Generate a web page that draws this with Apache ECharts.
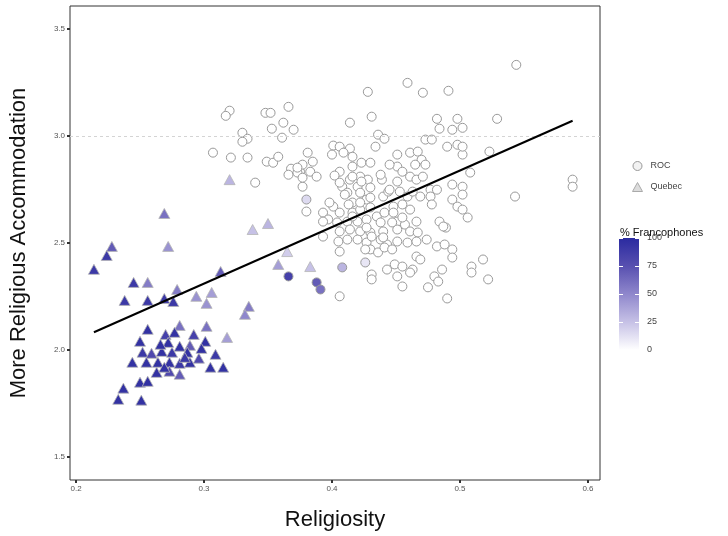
<!DOCTYPE html>
<html><head><meta charset="utf-8">
<script src="https://cdn.jsdelivr.net/npm/echarts@6/dist/echarts.min.js"></script>
<style>html,body{margin:0;padding:0;background:#fff}#c{width:728px;height:536px}</style>
</head><body><div id="c"></div>
<script>
// ---- DATA ----
const xTicks = [0.2, 0.3, 0.4, 0.5, 0.6];
const yTicks = [1.5, 2.0, 2.5, 3.0, 3.5];
const colorbarTicks = [0, 25, 50, 75, 100];
const refLineY = 3.0;

const quebecX = [
 0.269,0.228,0.224,0.272,0.214,0.245,0.256,0.313,0.279,0.238,
 0.256,0.269,0.276,0.294,0.302,0.306,0.256,0.281,0.302,0.318,
 0.250,0.270,0.277,0.292,0.301,0.272,0.281,0.289,0.252,0.259,
 0.267,0.275,0.287,0.298,0.244,0.255,0.264,0.273,0.281,0.289,
 0.296,0.305,0.315,0.263,0.273,0.281,0.250,0.256,0.237,0.233,
 0.251,0.320,0.338,0.350,0.365,0.358,0.383,0.335,0.332,0.266,
 0.285,0.309,0.269];
const quebecY = [
 2.638,2.484,2.442,2.484,2.377,2.316,2.316,2.367,2.283,2.232,
 2.232,2.241,2.227,2.251,2.218,2.269,2.097,2.115,2.111,2.059,
 2.041,2.073,2.083,2.073,2.041,2.036,2.018,2.022,1.990,1.985,
 1.994,1.990,1.990,2.008,1.943,1.943,1.943,1.943,1.938,1.943,
 1.962,1.920,1.920,1.896,1.901,1.887,1.850,1.854,1.822,1.770,
 1.766,2.796,2.563,2.591,2.460,2.400,2.390,2.204,2.167,2.027,
 1.966,1.980,1.920];
const quebecFr = [
 60,70,90,45,90,90,55,70,55,90,
 90,90,90,45,45,40,95,60,60,40,
 95,85,95,85,95,95,95,70,90,80,
 95,90,95,95,95,95,95,95,90,95,
 80,95,95,95,80,70,95,95,95,95,
 95,30,25,30,20,40,25,55,50,95,
 90,90,95];

const rocX = [
 0.320,0.317,0.348,0.352,0.366,0.353,0.362,0.370,0.330,0.334,
 0.330,0.361,0.307,0.321,0.334,0.349,0.354,0.358,0.368,0.366,
 0.375,0.340,0.544,0.459,0.471,0.491,0.428,0.414,0.431,0.482,
 0.498,0.529,0.484,0.494,0.502,0.436,0.441,0.434,0.473,0.478,
 0.490,0.498,0.502,0.523,0.381,0.385,0.377,0.373,0.383,0.388,
 0.377,0.401,0.400,0.406,0.414,0.416,0.423,0.430,0.416,0.406,
 0.402,0.408,0.414,0.422,0.420,0.428,0.430,0.439,0.451,0.451,
 0.455,0.461,0.467,0.470,0.465,0.473,0.451,0.461,0.466,0.471,
 0.477,0.482,0.494,0.502,0.502,0.508,0.412,0.422,0.416,0.427,
 0.440,0.444,0.453,0.459,0.463,0.469,0.477,0.478,0.494,0.498,
 0.502,0.506,0.543,0.588,0.588,0.380,0.393,0.401,0.397,0.406,
 0.416,0.422,0.430,0.435,0.441,0.448,0.455,0.461,0.393,0.404,
 0.412,0.420,0.427,0.438,0.451,0.457,0.466,0.484,0.489,0.393,
 0.406,0.414,0.422,0.430,0.440,0.451,0.461,0.467,0.405,0.412,
 0.420,0.427,0.438,0.443,0.451,0.459,0.466,0.474,0.482,0.488,
 0.494,0.406,0.430,0.436,0.441,0.466,0.494,0.426,0.443,0.449,
 0.455,0.463,0.451,0.431,0.431,0.455,0.475,0.480,0.486,0.483,
 0.509,0.509,0.518,0.522,0.490,0.406,0.373,0.377,0.409,0.445,
 0.406,0.416,0.423,0.438,0.445,0.410,0.398,0.413,0.422,0.430,
 0.416,0.427,0.447,0.431,0.440,0.426,0.447,0.448,0.455,0.487,
 0.461,0.469,0.502,0.380,0.366,0.388,0.391,0.408];
const rocY = [
 3.118,3.094,3.108,3.108,3.136,3.034,3.062,3.029,3.015,2.987,
 2.973,2.992,2.922,2.899,2.899,2.880,2.875,2.903,2.847,2.819,
 2.833,2.782,3.332,3.248,3.202,3.211,3.206,3.062,3.090,3.080,
 3.080,3.080,3.034,3.029,3.038,3.006,2.987,2.950,2.983,2.983,
 2.950,2.959,2.913,2.927,2.922,2.880,2.866,2.829,2.833,2.810,
 2.763,2.955,2.913,2.950,2.941,2.903,2.875,2.875,2.857,2.833,
 2.815,2.763,2.796,2.810,2.763,2.796,2.759,2.796,2.913,2.857,
 2.833,2.922,2.927,2.889,2.866,2.866,2.787,2.810,2.796,2.810,
 2.749,2.749,2.773,2.763,2.726,2.829,2.735,2.735,2.689,2.703,
 2.717,2.740,2.740,2.717,2.740,2.717,2.717,2.680,2.703,2.670,
 2.656,2.619,2.717,2.796,2.763,2.647,2.642,2.670,2.610,2.642,
 2.642,2.656,2.666,2.624,2.642,2.670,2.680,2.656,2.600,2.596,
 2.600,2.600,2.610,2.596,2.600,2.586,2.600,2.600,2.572,2.530,
 2.554,2.563,2.554,2.549,2.554,2.563,2.554,2.549,2.507,2.516,
 2.516,2.502,2.516,2.493,2.507,2.502,2.507,2.516,2.484,2.493,
 2.470,2.460,2.470,2.456,2.479,2.437,2.432,2.409,2.376,2.400,
 2.390,2.376,2.344,2.353,2.330,2.297,2.293,2.344,2.376,2.320,
 2.390,2.362,2.423,2.330,2.241,2.251,2.852,2.805,2.922,2.866,
 2.782,2.810,2.787,2.819,2.749,2.726,2.689,2.680,2.689,2.712,
 2.624,2.572,2.596,2.530,2.526,2.470,2.470,2.642,2.619,2.577,
 2.362,2.423,2.950,2.703,2.344,2.316,2.283,2.386];
const rocFr = [
 0,0,0,0,0,0,0,0,0,0, 0,0,0,0,0,0,0,0,0,0,
 0,0,0,0,0,0,0,0,0,0, 0,0,0,0,0,0,0,0,0,0,
 0,0,0,0,0,0,0,0,0,0, 0,0,0,0,0,0,0,0,0,0,
 0,0,0,0,0,0,0,0,0,0, 0,0,0,0,0,0,0,0,0,0,
 0,0,0,0,0,0,0,0,0,0, 0,0,0,0,0,0,0,0,0,0,
 0,0,0,0,0,0,0,0,0,0, 0,0,0,0,0,0,0,0,0,0,
 0,0,0,0,0,0,0,0,0,0, 0,0,0,0,0,0,0,0,0,0,
 0,0,0,0,0,0,0,0,0,0, 0,0,0,0,0,0,0,10,0,0,
 0,0,0,0,0,0,0,0,0,0, 0,0,0,0,0,0,0,0,0,0,
 0,0,0,0,0,0,0,0,0,0, 0,0,0,0,0,0,0,0,0,0,
 0,0,0,15,85,70,60,30];

const fitX = [0.214, 0.588];
const fitY = [2.083, 3.071];

// ---- CHART ----
const FONT = '"Liberation Sans", Arial, Helvetica, sans-serif';
const rampStops = ['#ffffff', '#c6c1e6', '#8f87cc', '#5850b0', '#2a2aa0'];

const rocData = rocX.map((x, i) => [x, rocY[i], rocFr[i]]);
const quebecData = quebecX.map((x, i) => [x, quebecY[i], quebecFr[i]]);
const fitData = fitX.map((x, i) => [x, fitY[i]]);

const chart = echarts.init(document.getElementById('c'), null, {renderer: 'canvas'});
chart.setOption({
  animation: false,
  backgroundColor: '#ffffff',
  textStyle: {fontFamily: FONT},
  title: {
    text: '% Francophones', left: 615, top: 222,
    textStyle: {fontSize: 11, fontWeight: 'normal', color: '#111', fontFamily: FONT}
  },
  legend: {
    orient: 'vertical', left: 627, top: 156, itemWidth: 10, itemHeight: 9, itemGap: 11,
    textStyle: {fontSize: 9, color: '#444', fontFamily: FONT, padding: [0, 0, 0, 3]},
    data: [
      {name: 'ROC', icon: 'circle', itemStyle: {color: '#f2f2f2', borderColor: '#999', borderWidth: 1}},
      {name: 'Quebec', icon: 'triangle', itemStyle: {color: '#dcdcdc', borderColor: '#aaa', borderWidth: 1}}
    ]
  },
  visualMap: {
    show: false, type: 'continuous', min: 0, max: 100, dimension: 2, seriesIndex: [0, 1],
    inRange: {color: rampStops}
  },
  grid: [
    {left: 70, right: 128, top: 6, bottom: 55, show: true, borderColor: '#333', borderWidth: 1, backgroundColor: 'transparent'},
    {left: 619, top: 238, width: 20, height: 112}
  ],
  xAxis: [
    {
      type: 'value', gridIndex: 0, min: 0.1953, max: 0.6094,
      name: 'Religiosity', nameLocation: 'middle', nameGap: 29,
      nameTextStyle: {fontSize: 22, color: '#111', fontFamily: FONT},
      axisLine: {show: false},
      axisTick: {show: true, length: 3, lineStyle: {color: '#333', width: 2}, customValues: xTicks},
      axisLabel: {fontSize: 8, color: '#555', margin: 5, customValues: xTicks, formatter: v => v.toFixed(1)},
      splitLine: {show: false}
    },
    {type: 'category', gridIndex: 1, data: [''], show: false}
  ],
  yAxis: [
    {
      type: 'value', gridIndex: 0, min: 1.393, max: 3.607,
      name: 'More Religious Accommodation', nameLocation: 'middle', nameGap: 40,
      nameTextStyle: {fontSize: 22, color: '#111', fontFamily: FONT},
      axisLine: {show: false},
      axisTick: {show: true, length: 3, lineStyle: {color: '#333', width: 2}, customValues: yTicks},
      axisLabel: {fontSize: 8, color: '#555', margin: 5, customValues: yTicks, formatter: v => v.toFixed(1)},
      splitLine: {show: false}
    },
    {
      type: 'value', gridIndex: 1, min: 0, max: 100, interval: 25, position: 'right', z: 10,
      axisLine: {show: false},
      axisTick: {show: true, inside: true, length: 4, lineStyle: {color: '#ffffff', width: 1}},
      axisLabel: {fontSize: 9, color: '#444', margin: 8},
      splitLine: {show: false}
    },
    {
      type: 'value', gridIndex: 1, min: 0, max: 100, interval: 25, position: 'left', z: 10,
      axisLine: {show: false},
      axisTick: {show: true, inside: true, length: 4, lineStyle: {color: '#ffffff', width: 1}},
      axisLabel: {show: false},
      splitLine: {show: false}
    }
  ],
  series: [
    {
      name: 'ROC', type: 'scatter', xAxisIndex: 0, yAxisIndex: 0,
      symbol: 'circle', symbolSize: 9, data: rocData,
      itemStyle: {borderColor: '#999', borderWidth: 1, opacity: 1}
    },
    {
      name: 'Quebec', type: 'scatter', xAxisIndex: 0, yAxisIndex: 0,
      symbol: 'triangle', symbolSize: [11, 10], data: quebecData,
      itemStyle: {borderColor: '#b5b5b5', borderWidth: 0.8, opacity: 1}
    },
    {
      name: 'fit', type: 'line', xAxisIndex: 0, yAxisIndex: 0, data: fitData,
      symbol: 'none', lineStyle: {color: '#000', width: 2}, z: 5,
      markLine: {
        silent: true, symbol: ['none', 'none'], label: {show: false},
        lineStyle: {type: [3, 3], color: '#d4d4d4', width: 1},
        data: [{yAxis: refLineY}]
      }
    },
    {
      name: 'colorbar', type: 'bar', xAxisIndex: 1, yAxisIndex: 1, barWidth: '100%',
      data: [colorbarTicks[colorbarTicks.length - 1]], silent: true,
      itemStyle: {
        color: new echarts.graphic.LinearGradient(0, 0, 0, 1, [
          {offset: 0, color: rampStops[4]}, {offset: 0.25, color: rampStops[3]},
          {offset: 0.5, color: rampStops[2]}, {offset: 0.75, color: rampStops[1]},
          {offset: 1, color: rampStops[0]}
        ])
      }
    }
  ]
});
</script></body></html>
